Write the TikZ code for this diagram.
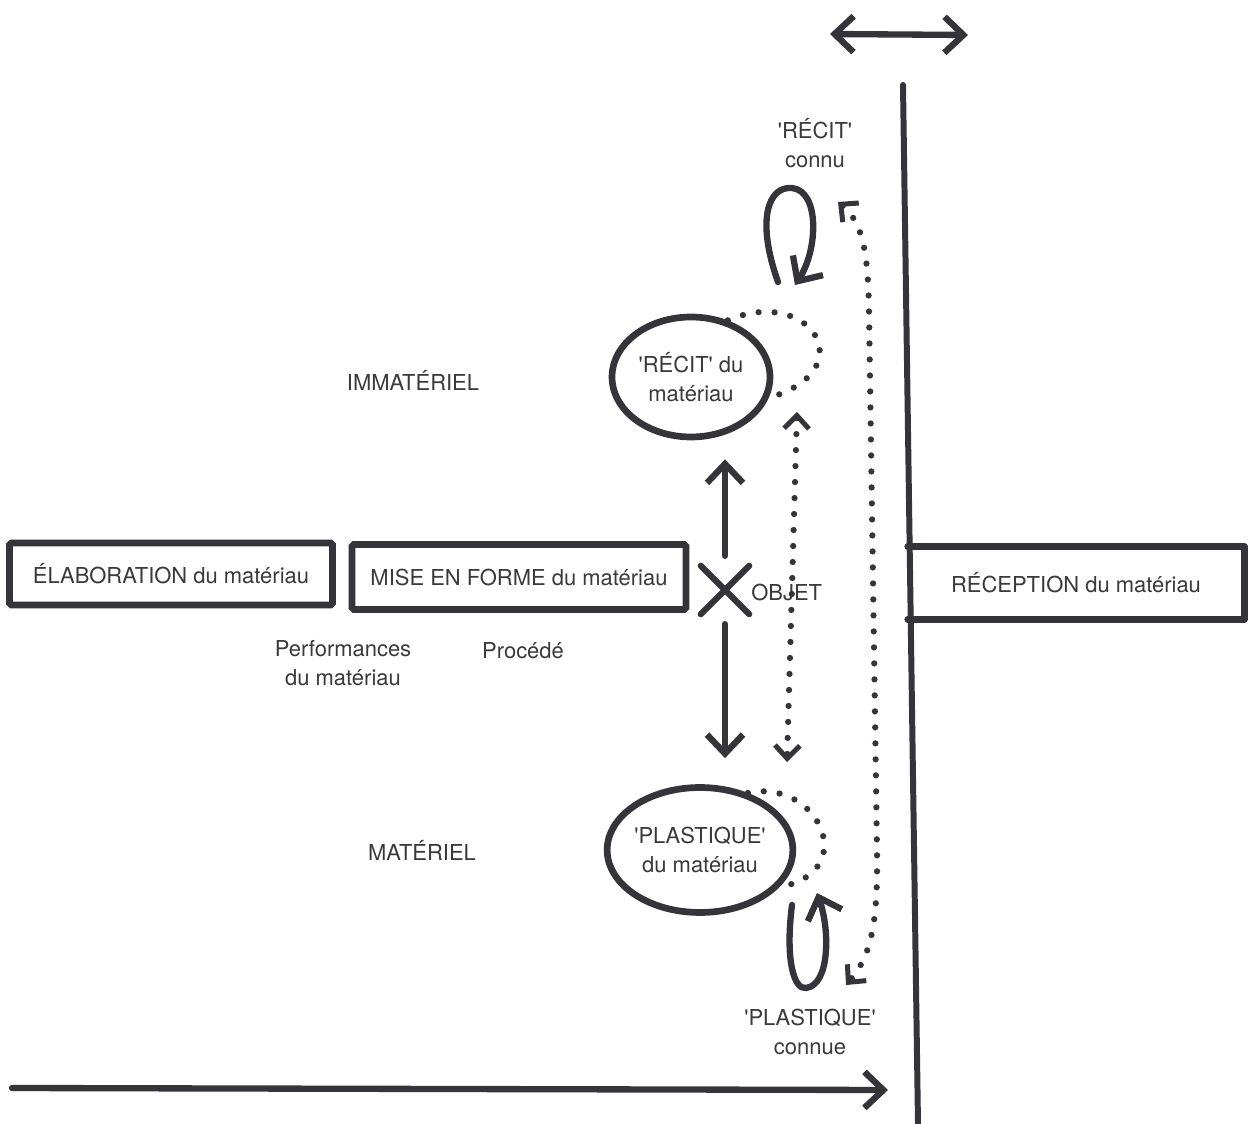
\documentclass[tikz,border=0pt]{standalone}
\usepackage{fontspec}
\setmainfont{TeX Gyre Heros}
\usepackage{tikz}
\usetikzlibrary{arrows.meta}
\usetikzlibrary{shapes.geometric,shapes.misc}
\definecolor{Ink}{RGB}{52,52,58}
\definecolor{Txt}{RGB}{58,58,58}
\newcommand{\Qt}[1]{\textquotesingle#1\textquotesingle}
\tikzset{BigTip/.tip={Straight Barb[length=3.8mm,width=7.2mm]},
    DotTip/.tip={Straight Barb[length=2.6mm,width=5mm,line width=1mm]}}
\tikzstyle{Label}=[text=Txt,font=\fontsize{12.5}{16.5}\selectfont,align=center,inner sep=0pt]
\tikzstyle{Box}=[draw=Ink,line width=3.8pt,rounded corners=1pt,Label,inner sep=0pt]
\tikzstyle{Blob}=[ellipse,draw=Ink,line width=3.8pt,Label]
\tikzstyle{Stroke}=[Ink,line width=3.6pt,line cap=round,line join=round]
\tikzstyle{Arrow}=[Stroke,-BigTip]
\tikzstyle{DotLine}=[Ink,line width=1.25mm,line cap=round,dash pattern=on 0pt off 3.2mm]

\begin{document}
\begin{tikzpicture}[x=0.02cm,y=-0.02cm]
        \useasboundingbox (0,0) rectangle (1248,1124);
        % boxes
        \node[Box,minimum width=6.46cm,minimum height=1.24cm](elab)at(171,574){ÉLABORATION du matériau};
        \node[Box,minimum width=6.68cm,minimum height=1.30cm](mise)at(519,577){MISE EN FORME du matériau};
        \node[Label,minimum width=6.72cm,minimum height=1.44cm](recep)at(1076,583){RÉCEPTION du matériau};
        \draw[Stroke,line width=3.8pt](recep.north west)--(recep.north east)
            --(recep.south east)--(recep.south west);
        % blobs
        \node[Blob,minimum width=3.16cm,minimum height=2.4cm](recit)at(691,377){\Qt{RÉCIT} du\\matériau};
        \node[Blob,minimum width=3.3cm,minimum height=2.5cm](plast)at(700,850){\Qt{PLASTIQUE}\\du matériau};
        % object
        \node[draw=Ink,cross out,line width=3.6pt,minimum size=0.84cm,line cap=round](obj)at(725,590){};
        \node[Label,anchor=west](objlab)at(751,592){OBJET};
        % labels
        \node[Label](recitk)at(815,143){\Qt{RÉCIT}\\connu};
        \node[Label](plastk)at(810,1032){\Qt{PLASTIQUE}\\connue};
        \node[Label](immat)at(413,380){IMMATÉRIEL};
        \node[Label](mat)at(422,850){MATÉRIEL};
        \node[Label](perf)at(343,663){Performances\\du matériau};
        \node[Label](proc)at(523,651){Procédé};
        % axes
        \coordinate(vtop)at(903,85);
        \coordinate(vbot)at(918,1124);
        \draw[Stroke,line width=3.4pt](vtop)--(vbot);
        \coordinate(hl)at(12,1088);
        \coordinate(hr)at(888,1090);
        \draw[Arrow](hl)--(hr);
        \coordinate(dl)at(830,34);
        \coordinate(dr)at(968,35);
        \draw[Arrow,BigTip-BigTip](dl)--(dr);
        % object arrows
        \draw[Arrow,shorten <=2mm,shorten >=3.8mm](obj.north)--(obj.north|-recit.south);
        \draw[Arrow,shorten <=2mm,shorten >=5.2mm](obj.south)--(obj.south|-plast.north);
        % loops
        \coordinate(la)at(778,282);
        \coordinate(lb)at(795,285);
        \draw[Arrow](la)..controls(756,220)and(768,186)..(792,188)
            ..controls(820,191)and(818,250)..(lb);
        \coordinate(lc)at(792,905);
        \coordinate(ld)at(817,893);
        \draw[Arrow](lc)..controls(785,960)and(794,990)..(806,988)
            ..controls(830,985)and(830,930)..(ld);
        % dotted links
        \draw[DotLine](recit.57)..controls(810,285)and(865,370)..(recit.-15);
        \draw[DotLine](plast.50)..controls(818,778)and(862,872)..(plast.-25);
        \coordinate(ia)at(797,412);
        \coordinate(ib)at(787,762);
        \draw[DotLine,DotTip-DotTip](ia)--(ib);
        \coordinate(oa)at(838,202);
        \coordinate(ob)at(846,985);
        \draw[DotLine,DotTip-DotTip](oa)..controls(862,222)and(868,250)..(869,310)
            --(877,850)..controls(878,920)and(872,955)..(ob);
    \end{tikzpicture}
\end{document}
